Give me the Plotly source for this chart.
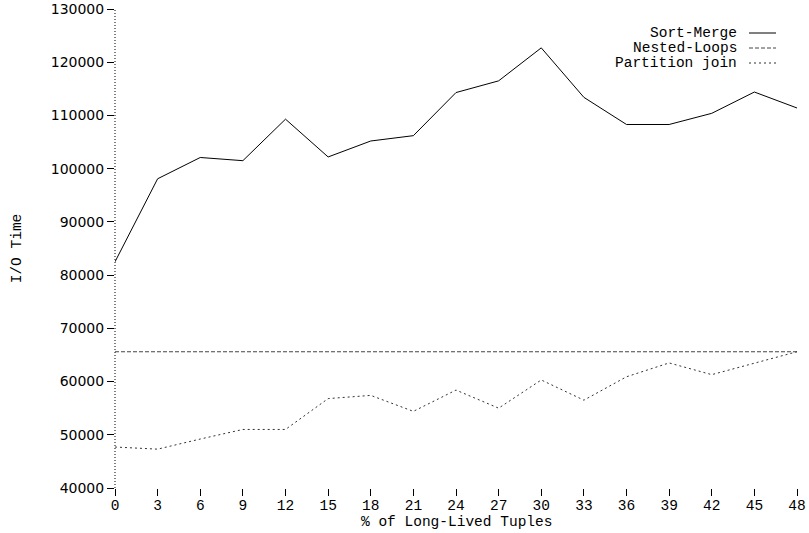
import plotly.graph_objects as go

x_vals = [0, 3, 6, 9, 12, 15, 18, 21, 24, 27, 30, 33, 36, 39, 42, 45, 48]
sort_merge = [82500, 98100, 102100, 101500, 109300, 102200, 105200, 106200, 114300, 116500, 122700, 113400, 108300, 108300, 110400, 114400, 111400]
nested_loops = [65600] * 17
partition_join = [47700, 47300, 49200, 51000, 51000, 56800, 57400, 54400, 58400, 55000, 60300, 56500, 60900, 63500, 61300, 63400, 65600]

series_names = ["Sort-Merge", "Nested-Loops", "Partition join"]
series_data = [sort_merge, nested_loops, partition_join]
dashes = ["solid", "4px,2px", "2px,3px"]
colors = ["#000000", "#444444", "#333333"]

mono = "Liberation Mono, Courier New, monospace"
fs = 14.5

L, R, T, B = 115, 12, 9, 45
W, H = 809, 533
pw, ph = W - L - R, H - T - B

def px_x(p):
    return (p - L) / pw

def px_y(p):
    return (H - B - p) / ph

fig = go.Figure()
for name, data, d, c in zip(series_names, series_data, dashes, colors):
    fig.add_trace(go.Scatter(x=x_vals, y=data, mode="lines", name=name,
                             line=dict(color=c, width=1, dash=d), showlegend=False))

# custom legend (text right, sample line after)
leg_rows = [33, 48, 63]
for name, d, c, row in zip(series_names, dashes, colors, leg_rows):
    fig.add_annotation(x=px_x(739), y=px_y(row), xref="paper", yref="paper", text=name,
                       showarrow=False, xanchor="right", yanchor="middle",
                       font=dict(family=mono, size=fs, color="#000"))
    fig.add_shape(type="line", xref="paper", yref="paper", x0=px_x(749), x1=px_x(776),
                  y0=px_y(row), y1=px_y(row), line=dict(color=c, width=1, dash=d))

# x axis title as annotation
fig.add_annotation(x=0.5, y=px_y(522), xref="paper", yref="paper",
                   text="% of Long-Lived Tuples", showarrow=False,
                   xanchor="center", yanchor="middle",
                   font=dict(family=mono, size=fs, color="#000"))

# dotted y axis line
fig.add_shape(type="line", xref="paper", yref="paper", x0=0, x1=0, y0=0, y1=1,
              line=dict(color="#000", width=1, dash="1px,2px"))

fig.update_layout(
    width=W, height=H,
    margin=dict(l=L, r=R, t=T, b=B, autoexpand=False),
    plot_bgcolor="white", paper_bgcolor="white",
    showlegend=False,
)
fig.update_xaxes(range=[0, 48], tickmode="array", tickvals=x_vals,
                 ticktext=[str(v) for v in x_vals], automargin=False,
                 showgrid=False, zeroline=False, showline=False,
                 ticks="outside", ticklen=7, tickcolor="#000", tickwidth=1,
                 ticklabelstandoff=-3,
                 tickfont=dict(family=mono, size=fs, color="#000"))
fig.update_yaxes(range=[40000, 130000], dtick=10000, tick0=40000, tickformat="d",
                 automargin=False,
                 showgrid=False, zeroline=False, showline=False,
                 ticks="outside", ticklen=7, tickcolor="#000", tickwidth=1,
                 tickfont=dict(family="DejaVu Sans, Verdana, sans-serif", size=14, color="#000"),
                 title=dict(text="I/O Time", standoff=25,
                            font=dict(family=mono, size=fs, color="#000")))

fig.write_html("out.html")
